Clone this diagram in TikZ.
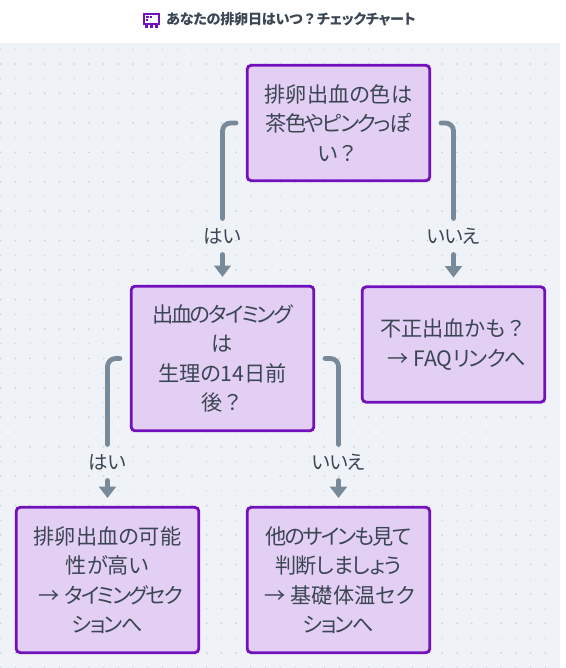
\documentclass[tikz,border=0pt]{standalone}
\usepackage{fontspec}
\setmainfont[RawFeature=+palt]{Noto Sans CJK JP}
\usetikzlibrary{arrows.meta}
\definecolor{bgc}{HTML}{EFF3F7}
\definecolor{fillc}{HTML}{E3CFF3}
\definecolor{edgec}{HTML}{7210BE}
\definecolor{linec}{HTML}{78899A}
\definecolor{textc}{HTML}{3B4654}
\definecolor{dotc}{HTML}{CBD3E0}
\newcommand{\tight}[2]{{\addfontfeature{LetterSpace=#1}#2}}
\newcommand{\fullq}{{\addfontfeature{RawFeature=-palt}？}}
\tikzset{
  x=0.75pt,y=-0.75pt,
  stepbox/.style={draw=edgec,fill=fillc,line width=2.1pt,rounded corners=3pt,outer sep=0pt,inner sep=0pt,
    minimum width=137pt,align=center,text=textc,font=\fontsize{15.9pt}{22.1pt}\selectfont},
  lab/.style={text=textc,inner sep=0pt,outer sep=0pt,minimum height=27pt,font=\fontsize{14.6pt}{18pt}\selectfont},
  conn/.style={draw=linec,line width=3.6pt,line cap=round,rounded corners=6pt},
  arr/.style={draw=linec,line width=3.6pt,line cap=round,-{Triangle[length=8.5pt,width=12.5pt]},shorten >=7pt},
}
\begin{document}
\begin{tikzpicture}
\useasboundingbox (0,0) rectangle (566,668);
\fill[white] (0,0) rectangle (566,668);
\fill[bgc] (0,43) rectangle (560,668);
\foreach \j in {0,...,42}{
  \foreach \i in {0,...,37}{
    \pgfmathsetmacro{\dx}{0.6+14.72*\i}
    \pgfmathsetmacro{\dy}{49.3+14.72*\j}
    \pgfmathtruncatemacro{\odd}{mod(\j,2)}
    \ifnum\odd=0
      \fill[dotc] (\dx,\dy) circle (0.5pt);
    \else
      \fill[dotc] (\dx,\dy) circle (0.75pt);
    \fi
  }
}
% title icon
\fill[edgec] (143,13) rectangle (160,25);
\fill[white] (145,15) rectangle (158,23);
\fill[edgec] (146,16) rectangle (149,18);
\fill[edgec] (150,16) rectangle (152,18);
\fill[edgec] (146,19) rectangle (148,21);
\fill[edgec] (145,25) rectangle (148,28);
\fill[edgec] (150,25) rectangle (153,28);
\fill[edgec] (155,25) rectangle (158,28);
\node[text=textc,inner sep=0pt,anchor=west,font=\fontsize{10.6pt}{12pt}\selectfont\bfseries] (title) at (166,19) {\tight{-2}{あなたの排卵日はいつ\fullq チェックチャート}};

\node[stepbox,minimum height=86.5pt] (a) at (338.5,123) {排卵出血の色は\\\tight{-9}{茶色やピンクっぽ}\\い\fullq};
\node[stepbox,minimum height=108.5pt] (b) at (222.5,358.5) {\tight{-10}{出血のタイミング}\\は\\生理の14日前\\後\fullq};
\node[stepbox,minimum height=86.5pt] (c) at (453.5,344.5) {不正出血かも\fullq\\\hspace{5pt}→ FAQ\tight{-5}{リンクへ}};
\node[stepbox,minimum height=109pt] (d) at (107.5,580) {排卵出血の可能\\性が高い\\\hspace{5pt}→ \tight{-11}{タイミングセク}\\\tight{-8}{ションへ}};
\node[stepbox,minimum height=109pt] (e) at (338.5,580) {\tight{-9}{他のサインも見て}\\\tight{-3}{判断しましょう}\\\hspace{2pt}→ 基礎体温セク\\\tight{-8}{ションへ}};

\node[lab] (l1) at (222.5,236.5) {はい};
\node[lab] (l2) at (453.5,236.5) {\tight{-3}{いいえ}};
\node[lab] (l3) at (107.5,462.5) {はい};
\node[lab] (l4) at (338.5,462.5) {\tight{-3}{いいえ}};

\draw[conn] ([xshift=-8.4pt]a.west) -| (l1.north);
\draw[arr] (l1.south) -- (b.north);
\draw[conn] ([xshift=8.4pt]a.east) -| (l2.north);
\draw[arr] (l2.south) -- (c.north);
\draw[conn] ([xshift=-8.4pt]b.west) -| (l3.north);
\draw[arr] (l3.south) -- (d.north);
\draw[conn] ([xshift=8.4pt]b.east) -| (l4.north);
\draw[arr] (l4.south) -- (e.north);
\end{tikzpicture}
\end{document}
